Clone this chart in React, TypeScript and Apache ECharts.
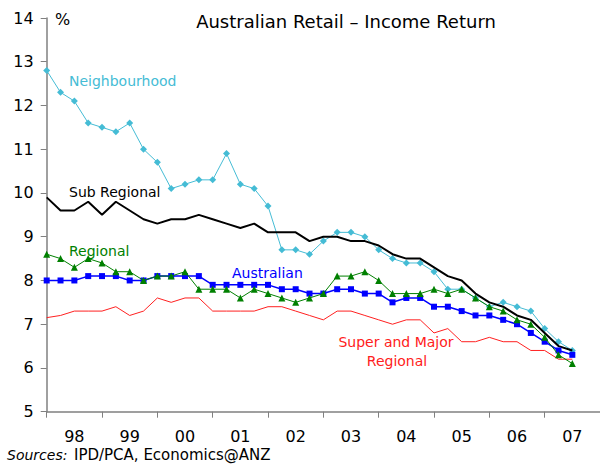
import React, { useEffect, useRef } from "react";
import * as echarts from "echarts";

// Quarterly observations, first quarter of 1998 through the middle of 2007
const years = ["98", "99", "00", "01", "02", "03", "04", "05", "06", "07"];
const yTicks = [5, 6, 7, 8, 9, 10, 11, 12, 13, 14];

const neighbourhood = [
  12.8, 12.3, 12.1, 11.6, 11.5, 11.4, 11.6, 11.0, 10.7, 10.1,
  10.2, 10.3, 10.3, 10.9, 10.2, 10.1, 9.7, 8.7, 8.7, 8.6,
  8.9, 9.1, 9.1, 9.0, 8.7, 8.5, 8.4, 8.4, 8.2, 7.8,
  7.8, 7.6, 7.4, 7.5, 7.4, 7.3, 6.9, 6.6, 6.4,
];
const subRegional = [
  9.9, 9.6, 9.6, 9.8, 9.5, 9.8, 9.6, 9.4, 9.3, 9.4,
  9.4, 9.5, 9.4, 9.3, 9.2, 9.3, 9.1, 9.1, 9.1, 8.9,
  9.0, 9.0, 8.9, 8.9, 8.8, 8.6, 8.5, 8.5, 8.3, 8.1,
  8.0, 7.7, 7.5, 7.4, 7.2, 7.1, 6.8, 6.5, 6.4,
];
const regional = [
  8.6, 8.5, 8.3, 8.5, 8.4, 8.2, 8.2, 8.0, 8.1, 8.1,
  8.2, 7.8, 7.8, 7.8, 7.6, 7.8, 7.7, 7.6, 7.5, 7.6,
  7.7, 8.1, 8.1, 8.2, 8.0, 7.7, 7.7, 7.7, 7.8, 7.7,
  7.8, 7.6, 7.4, 7.3, 7.1, 7.0, 6.7, 6.3, 6.1,
];
const australian = [
  8.0, 8.0, 8.0, 8.1, 8.1, 8.1, 8.0, 8.0, 8.1, 8.1,
  8.1, 8.1, 7.9, 7.9, 7.9, 7.9, 7.9, 7.8, 7.8, 7.7,
  7.7, 7.8, 7.8, 7.7, 7.7, 7.5, 7.6, 7.6, 7.4, 7.4,
  7.3, 7.2, 7.2, 7.1, 7.0, 6.8, 6.6, 6.4, 6.3,
];
const superMajor = [
  7.15, 7.2, 7.3, 7.3, 7.3, 7.4, 7.2, 7.3, 7.6, 7.5,
  7.6, 7.6, 7.3, 7.3, 7.3, 7.3, 7.4, 7.4, 7.3, 7.2,
  7.1, 7.3, 7.3, 7.2, 7.1, 7.0, 7.1, 7.1, 6.8, 6.9,
  6.6, 6.6, 6.7, 6.6, 6.6, 6.4, 6.4, 6.2, 6.2,
];

const FONT = "DejaVu Sans, Verdana, sans-serif";

const pairs = (arr: number[]) => arr.map((v, i) => [i, v]);

export default function App() {
  const ref = useRef<HTMLDivElement>(null);

  useEffect(() => {
    if (!ref.current) return;
    document.body.style.margin = "0";
    document.body.style.overflow = "hidden";
    const chart = echarts.init(ref.current, undefined, { renderer: "svg" });
    const axisGray = "#808080";
    const quarters = years.length * 4;

    const text = (
      t: string,
      x: number,
      y: number,
      color: string,
      size: number,
      align: string = "left",
      fontStyle: string = "normal"
    ) => ({
      type: "text",
      x,
      y,
      style: {
        text: t,
        fill: color,
        font: `${fontStyle} ${size}px ${FONT}`,
        textAlign: align,
        textVerticalAlign: "middle",
      },
    });

    chart.setOption({
      animation: false,
      backgroundColor: "#ffffff",
      grid: { left: 46.7, right: -18.5, top: 18, bottom: 52.3, containLabel: false },
      xAxis: [
        {
          type: "value",
          min: 0,
          max: quarters,
          interval: 4,
          axisLine: { show: true, lineStyle: { color: axisGray, width: 1.5 } },
          axisTick: { show: true, length: 6, lineStyle: { color: axisGray, width: 1 } },
          axisLabel: { show: false },
          splitLine: { show: false },
        },
        {
          type: "category",
          data: years,
          boundaryGap: true,
          position: "bottom",
          axisLine: { show: false },
          axisTick: { show: false },
          axisLabel: {
            show: true,
            color: "#000",
            fontFamily: FONT,
            fontSize: 16,
            margin: 17,
          },
          splitLine: { show: false },
        },
      ],
      yAxis: {
        type: "value",
        min: yTicks[0],
        max: yTicks[yTicks.length - 1],
        interval: 1,
        axisLine: { show: true, lineStyle: { color: axisGray, width: 1.5 } },
        axisTick: { show: true, length: 6, lineStyle: { color: axisGray, width: 1 } },
        axisLabel: {
          color: "#000",
          fontFamily: FONT,
          fontSize: 16,
          margin: 13,
        },
        splitLine: { show: false },
      },
      series: [
        {
          name: "Super and Major Regional",
          type: "line",
          data: pairs(superMajor),
          showSymbol: false,
          symbol: "none",
          lineStyle: { color: "#ff2020", width: 1 },
          z: 2,
        },
        {
          name: "Neighbourhood",
          type: "line",
          data: pairs(neighbourhood),
          symbol: "diamond",
          symbolSize: 7,
          itemStyle: { color: "#45bcd5" },
          lineStyle: { color: "#45bcd5", width: 1 },
          z: 3,
        },
        {
          name: "Sub Regional",
          type: "line",
          data: pairs(subRegional),
          symbol: "none",
          lineStyle: { color: "#000000", width: 2 },
          z: 4,
        },
        {
          name: "Australian",
          type: "line",
          data: pairs(australian),
          symbol: "rect",
          symbolSize: 6,
          itemStyle: { color: "#0000ff" },
          lineStyle: { color: "#0000ff", width: 1.5 },
          z: 5,
        },
        {
          name: "Regional",
          type: "line",
          data: pairs(regional),
          symbol: "triangle",
          symbolSize: 7,
          itemStyle: { color: "#008000" },
          lineStyle: { color: "#008000", width: 1 },
          z: 6,
        },
      ],
      graphic: [
        text("Australian Retail – Income Return", 346, 21, "#000", 18, "center"),
        text("%", 55, 19, "#000", 16, "left"),
        text("Neighbourhood", 69, 81, "#45bcd5", 14),
        text("Sub Regional", 69, 192, "#000", 14),
        text("Regional", 69, 251, "#008000", 14),
        text("Australian", 232, 273, "#0000ff", 14),
        text("Super and Major", 396, 342, "#ff2020", 14, "center"),
        text("Regional", 397, 361, "#ff2020", 14, "center"),
        text("Sources:", 7, 455, "#000", 14, "left", "italic"),
        text("IPD/PCA, Economics@ANZ", 74, 455, "#000", 15, "left"),
      ],
    });

    return () => chart.dispose();
  }, []);

  return (
    <div
      ref={ref}
      style={{ width: 600, height: 464, overflow: "hidden", position: "relative" }}
    />
  );
}
